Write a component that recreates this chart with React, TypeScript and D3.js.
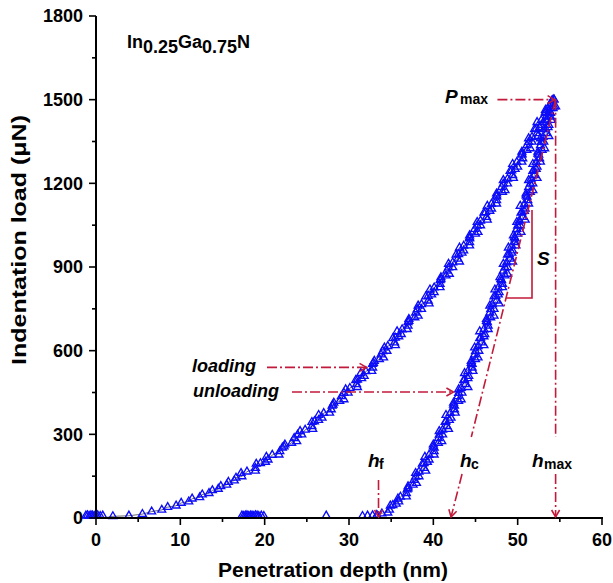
import React from 'react';
import * as d3 from 'd3';

// Loading branch (depth nm, load µN)
const loadDepth = [2.0,3.9,5.5,6.6,7.8,8.5,9.5,10.1,11.0,11.4,12.3,12.6,13.4,13.8,14.5,14.8,15.5,15.7,16.4,16.6,17.3,
  17.9,18.9,19.5,20.4,20.9,21.8,22.3,23.2,23.5,24.4,24.8,25.6,25.9,26.8,27.0,27.9,28.1,28.9,29.1,29.9,
  30.1,30.9,31.0,31.8,32.0,32.8,32.9,33.6,33.8,34.5,34.6,35.4,35.5,36.2,36.3,37.0,37.1,37.8,37.9,38.6,
  38.6,39.4,39.4,40.1,40.1,40.8,40.9,41.5,41.6,42.3,42.3,42.9,43.0,43.6,43.6,44.3,44.3,45.0,44.9,45.6,
  45.6,46.3,46.2,46.9,46.9,47.5,47.5,48.2,48.1,48.8,48.8,49.4,49.3,50.0,49.9,50.6,50.5,51.1,51.1,51.7,
  51.7,52.3,52.2,52.8,52.8,53.4,53.3,53.9,53.9,54.3];
const loadForce = [6,8,14,23,29,39,44,54,59,69,74,84,89,99,104,114,119,129,134,144,149,
  166,179,196,209,226,239,256,269,286,299,316,329,346,359,376,389,406,419,436,449,
  466,479,496,509,526,539,556,569,586,599,616,629,646,659,676,689,706,719,736,749,
  766,779,796,809,826,839,856,869,886,899,916,929,946,959,976,989,1006,1019,1036,1049,
  1066,1079,1096,1109,1126,1139,1156,1169,1186,1199,1216,1229,1246,1259,1276,1289,1306,1319,1336,1349,
  1366,1379,1396,1409,1426,1439,1456,1469,1486,1500];
// Loading branch, interleaved readings
const loadDepth2 = [17.2,18.9,19.0,20.1,20.2,21.7,22.1,22.4,23.8,23.9,24.2,25.7,25.6,26.4,26.4,27.7,28.0,28.2,29.4,29.4,
  29.6,31.0,30.8,31.5,31.4,32.7,32.8,33.0,34.1,34.0,34.2,35.5,35.2,35.9,35.7,36.9,37.0,37.1,38.2,38.1,
  38.2,39.5,39.1,39.8,39.6,40.8,40.8,40.9,41.9,41.8,41.8,43.1,42.7,43.4,43.1,44.3,44.3,44.3,45.3,45.2,
  45.2,46.4,46.0,46.7,46.4,47.5,47.5,47.5,48.5,48.3,48.3,49.5,49.1,49.7,49.4,50.5,50.5,50.5,51.5,51.3,
  51.3,52.4,52.0,52.6,52.3,53.4,53.3,53.3,54.3,54.1];
const loadForce2 = [161,169,194,201,219,227,252,263,275,298,311,319,344,351,369,377,402,413,425,448,
  461,469,494,501,519,527,552,563,575,598,611,619,644,651,669,677,702,713,725,748,
  761,769,794,801,819,827,852,863,875,898,911,919,944,951,969,977,1002,1013,1025,1048,
  1061,1069,1094,1101,1119,1127,1152,1163,1175,1198,1211,1219,1244,1251,1269,1277,1302,1313,1325,1348,
  1361,1369,1394,1401,1419,1427,1452,1463,1475,1497];

// Unloading branch
const unloadDepth = [54.3,54.0,54.2,53.8,53.9,53.5,53.7,53.3,53.4,53.0,53.1,52.7,52.9,52.4,52.6,52.2,52.3,51.9,52.0,51.6,
  51.8,51.3,51.5,51.0,51.2,50.8,50.9,50.5,50.6,50.2,50.3,49.9,50.0,49.6,49.7,49.3,49.4,49.0,49.1,48.7,
  48.8,48.3,48.5,48.0,48.2,47.7,47.8,47.4,47.5,47.0,47.2,46.7,46.8,46.3,46.5,46.0,46.1,45.6,45.7,45.3,
  45.4,44.9,45.0,44.5,44.6,44.1,44.2,43.7,43.8,43.3,43.4,42.9,43.0,42.4,42.5,42.0,42.1,41.5,41.6,41.1,
  41.1,40.6,40.6,40.0,40.1,39.5,39.5,38.9,38.9,38.3,38.3,37.7,37.6,37.0,36.8,36.1,35.9,35.2,34.8,33.9,33.3];
const unloadForce = [1500,1486,1469,1456,1439,1426,1409,1396,1379,1366,1349,1336,1319,1306,1289,1276,1259,1246,1229,1216,
  1199,1186,1169,1156,1139,1126,1109,1096,1079,1066,1049,1036,1019,1006,989,976,959,946,929,916,
  899,886,869,856,839,826,809,796,779,766,749,736,719,706,689,676,659,646,629,616,
  599,586,569,556,539,526,509,496,479,466,449,436,419,406,389,376,359,346,329,316,
  299,286,269,256,239,226,209,196,179,166,149,136,119,106,89,76,59,46,29,16,8];
// Unloading branch, interleaved readings
const unloadDepth2 = [33.3,34.6,34.9,35.6,35.8,36.8,36.9,37.0,38.0,37.9,37.9,39.1,38.7,39.3,39.0,40.1,40.1,40.0,41.0,40.7,
  40.7,41.8,41.4,41.9,41.5,42.6,42.5,42.4,43.3,43.0,43.0,44.1,43.6,44.1,43.7,44.7,44.6,44.5,45.3,45.0,
  44.9,46.0,45.5,46.0,45.5,46.5,46.4,46.3,47.2,46.8,46.7,47.8,47.2,47.7,47.3,48.2,48.1,47.9,48.8,48.5,
  48.3,49.4,48.8,49.3,48.9,49.8,49.7,49.5,50.4,50.0,49.9,50.9,50.4,50.8,50.3,51.3,51.1,51.0,51.8,51.5,
  51.3,52.3,51.8,52.2,51.8,52.7,52.5,52.4,53.2,52.8,52.7,53.7,53.1,53.6,53.1,54.0,53.9,53.7,54.5,54.1];
const unloadForce2 = [10,19,44,51,69,77,102,113,125,148,161,169,194,201,219,227,252,263,275,298,
  311,319,344,351,369,377,402,413,425,448,461,469,494,501,519,527,552,563,575,598,
  611,619,644,651,669,677,702,713,725,748,761,769,794,801,819,827,852,863,875,898,
  911,919,944,951,969,977,1002,1013,1025,1048,1061,1069,1094,1101,1119,1127,1152,1163,1175,1198,
  1211,1219,1244,1251,1269,1277,1302,1313,1325,1348,1361,1369,1394,1401,1419,1427,1452,1463,1475,1497];

// Points resting on the baseline
const zeroDepth = [-1.2,-1.0,-0.8,-0.6,-0.4,-0.2,0.0,0.2,0.5,0.8,17.3,17.5,17.7,17.9,18.1,18.3,18.5,18.7,18.9,19.1,19.3,19.6,19.9,27.3,31.6,32.2,32.8];
const zeroForce = [8,9,7,9,8,7,8,9,7,8,8,7,8,9,7,8,8,7,9,8,7,8,7,8,7,8,9];

const xTicks = [0, 10, 20, 30, 40, 50, 60];
const xMinor = [5, 15, 25, 35, 45, 55];
const yTicks = [0, 300, 600, 900, 1200, 1500, 1800];
const yMinor = [150, 450, 750, 1050, 1350, 1650];

// Annotation values
const pMax = 1500;
const hMax = 54.5;
const hC = 42.1;
const hF = 33.5;
const sTop = 1104;
const sBottom = 789;

const RED = '#c21a3a';
const BLUE = '#0c0cf8';
const DASH = '10,3,2,3';
const FONT = "'Liberation Sans', Arial, Helvetica, sans-serif";

function chevron(tx: number, ty: number, ux: number, uy: number, L = 7, W = 4) {
  const n = Math.hypot(ux, uy);
  ux /= n; uy /= n;
  const px = -uy, py = ux;
  const bx = tx - ux * L, by = ty - uy * L;
  return `M${bx + px * W},${by + py * W}L${tx},${ty}L${bx - px * W},${by - py * W}`;
}

export default function App() {
  const x = d3.scaleLinear().domain([0, 60]).range([96, 602]);
  const y = d3.scaleLinear().domain([0, 1800]).range([518, 16]);
  const tri = d3.symbol().type(d3.symbolTriangle).size(27)() as string;
  const pair = (a: number[], b: number[]) => a.map((h, i) => [h, b[i]]);
  const loadPts = pair(loadDepth, loadForce);
  const loadPts2 = pair(loadDepth2, loadForce2);
  const unloadPts = pair(unloadDepth, unloadForce);
  const unloadPts2 = pair(unloadDepth2, unloadForce2);
  const zeroPts = pair(zeroDepth, zeroForce);
  const line = d3.line<number[]>().x(d => x(d[0])).y(d => y(d[1]));
  const tan = (p: number) => hC + (hMax - hC) * p / pMax;

  const x0 = x(0), y0 = y(0);
  const topX = x(hMax), topY = y(pMax);
  const gapHi = y.invert(437), gapLo = y.invert(474);

  const marker = (d: number[], i: number, key: string) => (
    <path key={key + i} d={tri} transform={`translate(${x(d[0])},${y(d[1])})`} fill="none" stroke={BLUE} strokeWidth={1.35} />
  );

  return (
    <svg width={613} height={583} style={{ position: 'absolute', left: 0, top: 0, background: '#fff' }} fontFamily={FONT}>
      <path d={line([[0.8, 0], ...loadPts]) as string} fill="none" stroke="#444" strokeWidth={0.8} />
      <path d={line(unloadPts) as string} fill="none" stroke="#444" strokeWidth={0.6} />

      {zeroPts.map((d, i) => marker(d, i, 'z'))}
      {loadPts.map((d, i) => marker(d, i, 'l'))}
      {loadPts2.map((d, i) => marker(d, i, 'm'))}
      {unloadPts.map((d, i) => marker(d, i, 'u'))}
      {unloadPts2.map((d, i) => marker(d, i, 'v'))}

      {/* axes */}
      <line x1={x0} x2={x0} y1={y(1800)} y2={y0 + 1} stroke="#000" strokeWidth={2} />
      <line x1={x0 - 1} x2={x(60) + 1} y1={y0} y2={y0} stroke="#000" strokeWidth={2} />
      {yTicks.map(t => (
        <g key={'yt' + t}>
          <line x1={x0 - 7} x2={x0} y1={y(t)} y2={y(t)} stroke="#000" strokeWidth={1.6} />
          <text x={x0 - 13} y={y(t)} dy="0.36em" textAnchor="end" fontSize={18} fontWeight="bold">{t}</text>
        </g>
      ))}
      {yMinor.map(t => (
        <line key={'ym' + t} x1={x0 - 4} x2={x0} y1={y(t)} y2={y(t)} stroke="#000" strokeWidth={1.6} />
      ))}
      {xTicks.map(t => (
        <g key={'xt' + t}>
          <line x1={x(t)} x2={x(t)} y1={y0} y2={y0 + 7} stroke="#000" strokeWidth={1.6} />
          <text x={x(t)} y={y0 + 28} textAnchor="middle" fontSize={18} fontWeight="bold">{t}</text>
        </g>
      ))}
      {xMinor.map(t => (
        <line key={'xm' + t} x1={x(t)} x2={x(t)} y1={y0} y2={y0 + 4} stroke="#000" strokeWidth={1.6} />
      ))}

      {/* axis titles */}
      <text x={333} y={577} textAnchor="middle" fontSize={21} fontWeight="bold">Penetration depth (nm)</text>
      <text transform="translate(26,240) rotate(-90)" textAnchor="middle" fontSize={21} fontWeight="bold"
        textLength={250} lengthAdjust="spacingAndGlyphs">Indentation load (μN)</text>

      {/* sample label */}
      <text x={127} y={48} fontSize={18} fontWeight="bold">
        In<tspan dy={5}>0.25</tspan><tspan dy={-5}>Ga</tspan><tspan dy={5}>0.75</tspan><tspan dy={-5}>N</tspan>
      </text>

      {/* Pmax arrow */}
      <line x1={x(47.6)} x2={topX - 2} y1={topY} y2={topY} stroke={RED} strokeWidth={1.6} strokeDasharray={DASH} />
      <path d={chevron(topX - 1, topY, 1, 0)} fill="none" stroke={RED} strokeWidth={1.6} />
      <text x={445} y={103} fontSize={19} fontWeight="bold" fontStyle="italic">P</text>
      <text x={460} y={104} fontSize={14} fontWeight="bold">max</text>

      {/* hmax vertical */}
      <line x1={topX} x2={topX} y1={topY} y2={y(gapHi)} stroke={RED} strokeWidth={1.6} strokeDasharray={DASH} />
      <line x1={topX} x2={topX} y1={y(gapLo)} y2={y0 - 1} stroke={RED} strokeWidth={1.6} strokeDasharray={DASH} />
      <path d={chevron(topX, y0 - 1, 0, 1)} fill="none" stroke={RED} strokeWidth={1.6} />
      <text x={532} y={467} fontSize={19} fontWeight="bold" fontStyle="italic">h</text>
      <text x={544} y={469} fontSize={14} fontWeight="bold">max</text>

      {/* hc tangent line */}
      <line x1={topX} y1={topY} x2={x(tan(gapHi))} y2={y(gapHi)} stroke={RED} strokeWidth={1.6} strokeDasharray={DASH} />
      <line x1={x(tan(gapLo))} y1={y(gapLo)} x2={x(hC)} y2={y0 - 1} stroke={RED} strokeWidth={1.6} strokeDasharray={DASH} />
      <path d={chevron(x(hC), y0 - 1, x(hC) - topX, y0 - topY)} fill="none" stroke={RED} strokeWidth={1.6} />
      <text x={460} y={467} fontSize={19} fontWeight="bold" fontStyle="italic">h</text>
      <text x={471} y={469} fontSize={14} fontWeight="bold">c</text>

      {/* hf arrow */}
      <line x1={x(hF)} x2={x(hF)} y1={480} y2={y0 - 1} stroke={RED} strokeWidth={1.6} strokeDasharray={DASH} />
      <path d={chevron(x(hF), y0 - 1, 0, 1)} fill="none" stroke={RED} strokeWidth={1.6} />
      <text x={368} y={467} fontSize={19} fontWeight="bold" fontStyle="italic">h</text>
      <text x={379} y={469} fontSize={14} fontWeight="bold">f</text>

      {/* stiffness triangle */}
      <path d={`M${x(tan(sBottom))},${y(sBottom)}H${x(51.7)}V${y(sTop)}`} fill="none" stroke={RED} strokeWidth={1.6} />
      <text x={537} y={265} fontSize={19} fontWeight="bold" fontStyle="italic">S</text>

      {/* loading / unloading labels */}
      <text x={192} y={372} fontSize={18} fontWeight="bold" fontStyle="italic">loading</text>
      <line x1={267} x2={x(32.2) - 2} y1={y(540)} y2={y(540)} stroke={RED} strokeWidth={1.6} strokeDasharray={DASH} />
      <path d={chevron(x(32.2) - 1, y(540), 1, 0)} fill="none" stroke={RED} strokeWidth={1.6} />
      <text x={193} y={397} fontSize={18} fontWeight="bold" fontStyle="italic">unloading</text>
      <line x1={292} x2={x(42.5) - 2} y1={y(452)} y2={y(452)} stroke={RED} strokeWidth={1.6} strokeDasharray={DASH} />
      <path d={chevron(x(42.5) - 1, y(452), 1, 0)} fill="none" stroke={RED} strokeWidth={1.6} />
    </svg>
  );
}
